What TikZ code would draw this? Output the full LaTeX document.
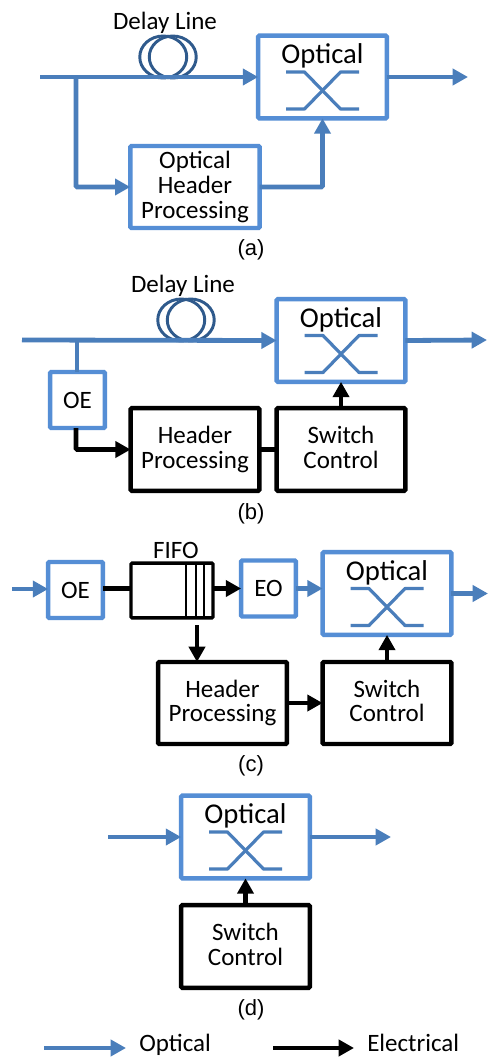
\documentclass[tikz,border=0pt]{standalone}
\usepackage{fontspec}
\setmainfont{Carlito}
\newfontfamily\capfont{Liberation Sans}
\usetikzlibrary{arrows.meta}
\definecolor{boxblue}{HTML}{558ED5}
\definecolor{lineblue}{HTML}{4A7EBB}
\definecolor{coilblue}{HTML}{2F5A8C}
\tikzset{
  px/.style={x=0.75pt,y=-0.75pt},
  txt/.style={font=\fontsize{18.75}{18.6}\selectfont,align=center,inner sep=0pt,text=black},
  optlabel/.style={font=\fontsize{21.5}{22}\selectfont,inner sep=0pt,text=black},
  capt/.style={font=\capfont\fontsize{16.5}{18}\selectfont,inner sep=0pt,text=black},
  blk/.style={draw,line width=3.3pt,rounded corners=0.8pt,inner sep=0pt,outer sep=0pt,align=center,
    font=\fontsize{18.75}{18.6}\selectfont},
  optbox/.style={blk,draw=boxblue,minimum width=96.5pt,minimum height=62pt},
  blubox/.style={blk,draw=boxblue},
  blkbox/.style={blk,draw=black},
  swsym/.style={draw=lineblue,line width=2.4pt,line join=round},
  optline/.style={draw=lineblue,line width=3.6pt},
  optarrow/.style={optline,-{Triangle[length=11.5pt,width=12pt]}},
  elline/.style={draw=black,line width=3.6pt},
  elarrow/.style={elline,-{Triangle[length=11.5pt,width=12pt]}},
  coil/.style={draw=coilblue,line width=2.2pt},
}
\newcommand{\opticalsw}[3]{%
  \node[optbox] (#1) at (#2,#3) {};
  \begin{scope}[shift={(#2,#3)}]
    \node[optlabel] (#1label) at (0,-21) {Optical};
    \draw[swsym] (-36.5,-5) -- (-18,-5) -- (18,32) -- (36.5,32);
    \draw[swsym] (-36.5,32) -- (-18,32) -- (18,-5) -- (36.5,-5);
  \end{scope}}
\newcommand{\coilat}[3]{%
  \draw[coil] (#1-4.75,#2) ellipse [x radius=23.5,y radius=21];
  \draw[coil] (#1+4.75,#2) ellipse [x radius=23.5,y radius=21];
  \node[txt] (#3) at (#1-3,#2-34) {Delay Line};}
\begin{document}
\begin{tikzpicture}[px]
\useasboundingbox[fill=white] (0,0) rectangle (488,1057);
% ---------- (a)
\coilat{168}{57}{dla}
\opticalsw{opa}{322.5}{77}
\node[blubox,minimum width=97pt,minimum height=61.5pt] (ohp) at (195,187) {Optical\\Header\\Processing};
\coordinate (ina) at (40,77);
\coordinate (outa) at (468,77);
\coordinate (bra) at (76,77);
\draw[optarrow] (ina) -- (opa.west);
\draw[optarrow] (opa.east) -- (outa);
\draw[optarrow,rounded corners=1pt] (bra) |- (ohp.west);
\draw[optarrow,rounded corners=1pt] (ohp.east) -| (opa.south);
\node[capt] (capa) at (251,250) {(a)};
% ---------- (b)
\coilat{186}{320}{dlb}
\opticalsw{opb}{341}{340.5}
\node[blubox,minimum width=41pt,minimum height=42pt] (oeb) at (77.5,400) {OE};
\node[blkbox,minimum width=96.5pt,minimum height=62pt] (hpb) at (195,449.5) {Header\\Processing};
\node[blkbox,minimum width=96.5pt,minimum height=62pt] (scb) at (341,449.5) {Switch\\Control\vphantom{g}};
\coordinate (inb) at (22,340);
\coordinate (outb) at (487,340);
\coordinate (brb) at (77,340);
\draw[optarrow] (inb) -- (opb.west);
\draw[optarrow] (opb.east) -- (outb);
\draw[optline,line width=2.8pt] (brb) -- (brb |- oeb.north);
\draw[elarrow,rounded corners=1pt] (oeb.south -| 76,0) |- (hpb.west);
\draw[elline] (hpb.east) -- (scb.west);
\draw[elarrow] (scb.north) -- (opb.south);
\node[capt] (capb) at (251,514) {(b)};
% ---------- (c)
\coordinate (cy) at (0,588.5);
\node[blubox,minimum width=41pt,minimum height=42pt] (oec) at (75.5,590) {OE};
\node[blkbox,line width=2.6pt,minimum width=61.5pt,minimum height=41pt] (fifo) at (172,590.5) {};
\node[txt] (fifolabel) at (176,550) {FIFO};
\draw[line width=1pt] (186,563) -- (186,618) (196,563) -- (196,618) (204,563) -- (204,618);
\node[blubox,minimum width=41pt,minimum height=42pt] (eo) at (268.5,588.5) {EO};
\opticalsw{opc}{387}{593.5}
\node[blkbox,minimum width=96.5pt,minimum height=61.5pt] (hpc) at (222.5,703) {Header\\Processing};
\node[blkbox,minimum width=96.5pt,minimum height=61.5pt] (scc) at (387,703) {Switch\\Control\vphantom{g}};
\coordinate (inc) at (12,589);
\coordinate (outc) at (488,593.5);
\coordinate (fd) at (197,625);
\draw[optarrow] (inc) -- (inc -| oec.west);
\draw[elline] (oec.east |- cy) -- (fifo.west |- cy);
\draw[elarrow] (fifo.east |- cy) -- (eo.west);
\draw[optarrow] (eo.east) -- (eo.east -| opc.west);
\draw[optarrow] (opc.east) -- (outc);
\draw[elarrow] (fd) -- (fd |- hpc.north);
\draw[elarrow] (hpc.east) -- (scc.west);
\draw[elarrow] (scc.north) -- (opc.south);
\node[capt] (capc) at (251,766) {(c)};
% ---------- (d)
\opticalsw{opd}{245.5}{837}
\node[blkbox,minimum width=96.5pt,minimum height=62pt] (scd) at (245.5,946.5) {Switch\\Control\vphantom{g}};
\coordinate (ind) at (108,837);
\coordinate (outd) at (391,837);
\draw[optarrow] (ind) -- (opd.west);
\draw[optarrow] (opd.east) -- (outd);
\draw[elarrow] (scd.north) -- (opd.south);
\node[capt] (capd) at (251,1010) {(d)};
% ---------- legend
\coordinate (lo1) at (44,1048);
\coordinate (lo2) at (126,1048);
\coordinate (le1) at (273,1048);
\coordinate (le2) at (354,1048);
\draw[optarrow] (lo1) -- (lo2);
\draw[elarrow] (le1) -- (le2);
\node[txt,anchor=base west] (lgo) at (139,1051) {Optical};
\node[txt,anchor=base west] (lge) at (367,1051) {Electrical};
\end{tikzpicture}
\end{document}
